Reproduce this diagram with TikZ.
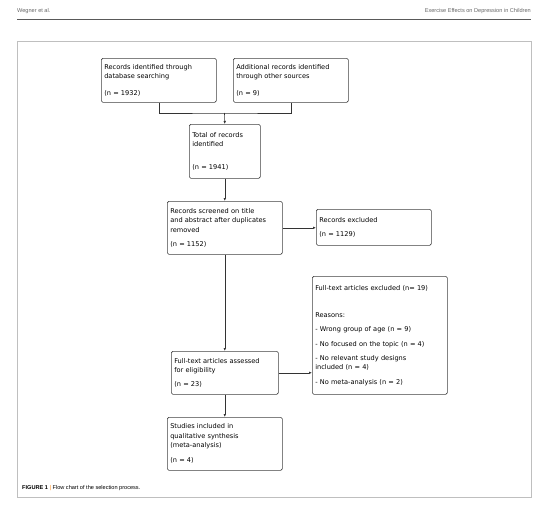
\documentclass[tikz,border=0pt]{standalone}
\usepackage{fontspec}
\setmainfont{DejaVu Sans}
\newfontfamily\headfont{Liberation Sans}
\usetikzlibrary{positioning, arrows, arrows.meta}

\tikzset{
    flowbox/.style={draw=black!75, line width=0.6pt, rounded corners=1.5pt, anchor=north west,
        align=left, inner xsep=3pt, inner ysep=3pt,
        font=\fontsize{6.6}{9.3}\selectfont},
    link/.style={line width=0.6pt, draw=black!80},
}

\begin{document}
\begin{tikzpicture}[x=1pt, y=-1pt, >={Latex[length=3pt,width=2.6pt]}]
        \useasboundingbox (0,0) rectangle (544,512);

        % page header
        \node (hl) [anchor=west, inner sep=0pt, text=black!60, font=\headfont\fontsize{5.6}{6}\selectfont] at (17,11) {Wegner et al.};
        \node (hr) [anchor=east, inner sep=0pt, text=black!60, font=\headfont\fontsize{5.6}{6}\selectfont] at (531,11) {Exercise Effects on Depression in Children};
        \draw [black!65, line width=0.8pt] (17,19) -- (531,19);

        % figure frame
        \draw [black!25, line width=0.8pt] (17,41) rectangle (531,497);

        % boxes
        \node (rec) [flowbox, text width=109pt, minimum height=44pt] at (101,58)
            {Records identified through\\database searching\\[8pt](n = 1932)};
        \node (add) [flowbox, text width=109pt, minimum height=44pt] at (233,58)
            {Additional records identified\\through other sources\\[8pt](n = 9)};
        \node (tot) [flowbox, text width=65pt, minimum height=54pt] at (189,124)
            {Total of records\\identified\\[14pt](n = 1941)};
        \node (scr) [flowbox, text width=109pt, minimum height=53pt] at (167,201)
            {Records screened on title\\and abstract after duplicates\\removed\\[5pt](n = 1152)};
        \node (exc) [flowbox, text width=109pt, minimum height=36pt] at (316,209)
            {Records excluded\\[5pt](n = 1129)};
        \node (fexc) [flowbox, text width=129pt, minimum height=118pt] at (312,276)
            {Full-text articles excluded (n= 19)\\[18pt]Reasons:\\[5pt]- Wrong group of age (n = 9)\\[5pt]- No focused on the topic (n = 4)\\[5pt]- No relevant study designs\\included (n = 4)\\[5pt]- No meta-analysis (n = 2)};
        \node (full) [flowbox, text width=101pt, minimum height=43pt] at (171,351)
            {Full-text articles assessed\\for eligibility\\[4pt](n = 23)};
        \node (incl) [flowbox, text width=109pt, minimum height=53pt] at (167,417)
            {Studies included in\\qualitative synthesis\\(meta-analysis)\\[6pt](n = 4)};

        % connectors
        \coordinate (join) at (224.5,113);
        \draw [link] (rec.south) |- (join) -| (add.south);
        \draw [link, ->] (join) -- (tot.north);
        \draw [link, ->] (tot.south) -- (scr.north);
        \draw [link, ->] (scr.east) -- (scr.east -| exc.west);
        \draw [link, ->] (scr.south) -- (full.north);
        \draw [link, ->] (full.east) -- (full.east -| fexc.west);
        \draw [link, ->] (full.south) -- (incl.north);

        % caption
        \node (cap) [anchor=west, inner sep=0pt, font=\headfont\fontsize{5.6}{6}\selectfont] at (22,488)
            {\textbf{FIGURE 1} \textcolor{orange}{|} Flow chart of the selection process.};
    \end{tikzpicture}
\end{document}
